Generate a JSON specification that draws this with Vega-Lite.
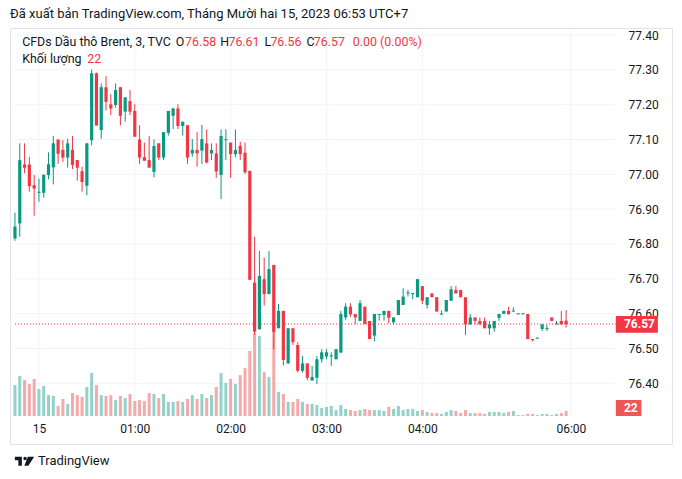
{
"$schema":"https://vega.github.io/schema/vega-lite/v6.json",
"width":662,"height":416,
"autosize":{"type":"none"},
"padding":{"left":10,"top":28,"right":10,"bottom":35},
"background":"#ffffff",
"config":{"view":{"stroke":"#e0e3eb","strokeWidth":1},"font":"Roboto","axis":{"grid":false,"ticks":false,"domain":false,"labelFont":"Roboto","title":null}},
"title":{"text":"Đã xuất bản TradingView.com, Tháng Mười hai 15, 2023 06:53 UTC+7","anchor":"start","frame":"group","font":"Roboto","fontSize":13,"fontWeight":"normal","color":"#131722","offset":7},
"datasets":{"bars":[
{"i":-5,"O":76.816,"H":76.89,"L":76.809,"C":76.85,"V":136},
{"i":-4,"O":76.859,"H":77.089,"L":76.821,"C":77.041,"V":176},
{"i":-3,"O":77.028,"H":77.089,"L":77.003,"C":77.019,"V":158},
{"i":-2,"O":77.028,"H":77.05,"L":76.95,"C":76.966,"V":141},
{"i":-1,"O":76.969,"H":76.998,"L":76.881,"C":76.959,"V":163},
{"i":0,"O":76.947,"H":76.988,"L":76.921,"C":76.95,"V":119},
{"i":1,"O":76.947,"H":76.999,"L":76.933,"C":76.999,"V":132},
{"i":2,"O":76.998,"H":77.063,"L":76.986,"C":77.029,"V":92},
{"i":3,"O":77.02,"H":77.11,"L":76.971,"C":77.089,"V":88},
{"i":4,"O":77.1,"H":77.1,"L":77.03,"C":77.059,"V":44},
{"i":5,"O":77.07,"H":77.098,"L":77.036,"C":77.048,"V":75},
{"i":6,"O":77.048,"H":77.102,"L":77.019,"C":77.089,"V":53},
{"i":7,"O":77.07,"H":77.11,"L":77.015,"C":77.027,"V":101},
{"i":8,"O":77.041,"H":77.041,"L":76.982,"C":77.019,"V":92},
{"i":9,"O":77.009,"H":77.022,"L":76.95,"C":76.978,"V":84},
{"i":10,"O":76.967,"H":77.089,"L":76.94,"C":77.089,"V":128},
{"i":11,"O":77.098,"H":77.301,"L":77.083,"C":77.29,"V":189},
{"i":12,"O":77.29,"H":77.292,"L":77.14,"C":77.14,"V":136},
{"i":13,"O":77.127,"H":77.261,"L":77.102,"C":77.25,"V":92},
{"i":14,"O":77.25,"H":77.282,"L":77.183,"C":77.208,"V":88},
{"i":15,"O":77.201,"H":77.23,"L":77.17,"C":77.189,"V":92},
{"i":16,"O":77.199,"H":77.261,"L":77.191,"C":77.242,"V":70},
{"i":17,"O":77.25,"H":77.25,"L":77.141,"C":77.168,"V":88},
{"i":18,"O":77.18,"H":77.221,"L":77.151,"C":77.221,"V":79},
{"i":19,"O":77.21,"H":77.242,"L":77.17,"C":77.18,"V":97},
{"i":20,"O":77.182,"H":77.201,"L":77.108,"C":77.108,"V":66},
{"i":21,"O":77.1,"H":77.141,"L":77.03,"C":77.048,"V":70},
{"i":22,"O":77.049,"H":77.091,"L":77.039,"C":77.039,"V":66},
{"i":23,"O":77.041,"H":77.11,"L":77.019,"C":77.019,"V":101},
{"i":24,"O":77.007,"H":77.1,"L":76.991,"C":77.081,"V":97},
{"i":25,"O":77.089,"H":77.089,"L":77.041,"C":77.048,"V":79},
{"i":26,"O":77.048,"H":77.121,"L":77.041,"C":77.121,"V":97},
{"i":27,"O":77.119,"H":77.182,"L":77.111,"C":77.182,"V":62},
{"i":28,"O":77.168,"H":77.191,"L":77.13,"C":77.189,"V":62},
{"i":29,"O":77.189,"H":77.201,"L":77.13,"C":77.139,"V":66},
{"i":30,"O":77.139,"H":77.151,"L":77.111,"C":77.151,"V":62},
{"i":31,"O":77.141,"H":77.141,"L":77.03,"C":77.048,"V":75},
{"i":32,"O":77.06,"H":77.101,"L":77.05,"C":77.07,"V":92},
{"i":33,"O":77.07,"H":77.121,"L":77.022,"C":77.06,"V":75},
{"i":34,"O":77.068,"H":77.142,"L":77.03,"C":77.101,"V":97},
{"i":35,"O":77.089,"H":77.129,"L":77.031,"C":77.034,"V":79},
{"i":36,"O":77.06,"H":77.089,"L":77.041,"C":77.07,"V":92},
{"i":37,"O":77.06,"H":77.089,"L":76.99,"C":77.008,"V":128},
{"i":38,"O":76.998,"H":77.129,"L":76.929,"C":77.11,"V":189},
{"i":39,"O":77.098,"H":77.129,"L":77.041,"C":77.101,"V":145},
{"i":40,"O":77.091,"H":77.091,"L":76.99,"C":77.058,"V":163},
{"i":41,"O":77.058,"H":77.129,"L":77.049,"C":77.07,"V":141},
{"i":42,"O":77.082,"H":77.094,"L":77.041,"C":77.058,"V":180},
{"i":43,"O":77.062,"H":77.091,"L":77.001,"C":77.006,"V":211},
{"i":44,"O":77.01,"H":77.01,"L":76.697,"C":76.697,"V":286},
{"i":45,"O":76.689,"H":76.821,"L":76.539,"C":76.548,"V":365},
{"i":46,"O":76.555,"H":76.78,"L":76.555,"C":76.708,"V":352},
{"i":47,"O":76.699,"H":76.761,"L":76.623,"C":76.656,"V":194},
{"i":48,"O":76.656,"H":76.78,"L":76.656,"C":76.728,"V":172},
{"i":49,"O":76.74,"H":76.74,"L":76.498,"C":76.548,"V":427},
{"i":50,"O":76.558,"H":76.628,"L":76.558,"C":76.608,"V":106},
{"i":51,"O":76.608,"H":76.608,"L":76.451,"C":76.467,"V":97},
{"i":52,"O":76.457,"H":76.558,"L":76.457,"C":76.558,"V":62},
{"i":53,"O":76.558,"H":76.558,"L":76.51,"C":76.518,"V":62},
{"i":54,"O":76.51,"H":76.518,"L":76.431,"C":76.436,"V":75},
{"i":55,"O":76.436,"H":76.478,"L":76.431,"C":76.457,"V":62},
{"i":56,"O":76.457,"H":76.457,"L":76.409,"C":76.416,"V":53},
{"i":57,"O":76.408,"H":76.45,"L":76.408,"C":76.418,"V":53},
{"i":58,"O":76.416,"H":76.478,"L":76.398,"C":76.469,"V":48},
{"i":59,"O":76.469,"H":76.498,"L":76.459,"C":76.489,"V":35},
{"i":60,"O":76.477,"H":76.498,"L":76.469,"C":76.489,"V":40},
{"i":61,"O":76.477,"H":76.489,"L":76.45,"C":76.48,"V":44},
{"i":62,"O":76.469,"H":76.498,"L":76.469,"C":76.498,"V":26},
{"i":63,"O":76.488,"H":76.608,"L":76.488,"C":76.599,"V":48},
{"i":64,"O":76.589,"H":76.63,"L":76.582,"C":76.62,"V":31},
{"i":65,"O":76.62,"H":76.63,"L":76.591,"C":76.598,"V":26},
{"i":66,"O":76.599,"H":76.599,"L":76.57,"C":76.589,"V":22},
{"i":67,"O":76.579,"H":76.639,"L":76.579,"C":76.63,"V":26},
{"i":68,"O":76.62,"H":76.62,"L":76.57,"C":76.57,"V":31},
{"i":69,"O":76.579,"H":76.579,"L":76.527,"C":76.527,"V":26},
{"i":70,"O":76.537,"H":76.599,"L":76.52,"C":76.599,"V":26},
{"i":71,"O":76.596,"H":76.599,"L":76.58,"C":76.599,"V":26},
{"i":72,"O":76.596,"H":76.608,"L":76.58,"C":76.608,"V":22},
{"i":73,"O":76.608,"H":76.608,"L":76.572,"C":76.588,"V":40},
{"i":74,"O":76.575,"H":76.589,"L":76.57,"C":76.589,"V":31},
{"i":75,"O":76.596,"H":76.639,"L":76.596,"C":76.639,"V":44},
{"i":76,"O":76.625,"H":76.673,"L":76.625,"C":76.649,"V":26},
{"i":77,"O":76.658,"H":76.668,"L":76.649,"C":76.661,"V":31},
{"i":78,"O":76.656,"H":76.659,"L":76.641,"C":76.659,"V":31},
{"i":79,"O":76.647,"H":76.699,"L":76.647,"C":76.699,"V":22},
{"i":80,"O":76.679,"H":76.679,"L":76.627,"C":76.637,"V":26},
{"i":81,"O":76.625,"H":76.647,"L":76.615,"C":76.647,"V":18},
{"i":82,"O":76.658,"H":76.658,"L":76.647,"C":76.647,"V":13},
{"i":83,"O":76.647,"H":76.647,"L":76.606,"C":76.606,"V":13},
{"i":84,"O":76.597,"H":76.609,"L":76.597,"C":76.6,"V":9},
{"i":85,"O":76.606,"H":76.639,"L":76.606,"C":76.639,"V":18},
{"i":86,"O":76.637,"H":76.679,"L":76.637,"C":76.67,"V":26},
{"i":87,"O":76.668,"H":76.679,"L":76.658,"C":76.658,"V":22},
{"i":88,"O":76.668,"H":76.668,"L":76.647,"C":76.647,"V":13},
{"i":89,"O":76.647,"H":76.647,"L":76.539,"C":76.569,"V":26},
{"i":90,"O":76.569,"H":76.599,"L":76.569,"C":76.589,"V":13},
{"i":91,"O":76.589,"H":76.589,"L":76.569,"C":76.579,"V":13},
{"i":92,"O":76.579,"H":76.589,"L":76.569,"C":76.569,"V":13},
{"i":93,"O":76.579,"H":76.589,"L":76.558,"C":76.558,"V":9},
{"i":94,"O":76.558,"H":76.579,"L":76.539,"C":76.569,"V":18},
{"i":95,"O":76.558,"H":76.579,"L":76.548,"C":76.579,"V":18},
{"i":96,"O":76.588,"H":76.599,"L":76.579,"C":76.599,"V":18},
{"i":97,"O":76.599,"H":76.608,"L":76.599,"C":76.608,"V":13},
{"i":98,"O":76.608,"H":76.62,"L":76.598,"C":76.598,"V":18},
{"i":99,"O":76.606,"H":76.618,"L":76.606,"C":76.609,"V":22},
{"i":100,"O":76.598,"H":76.601,"L":76.598,"C":76.601,"V":4},
{"i":101,"O":76.598,"H":76.601,"L":76.598,"C":76.601,"V":4},
{"i":102,"O":76.599,"H":76.599,"L":76.527,"C":76.527,"V":9},
{"i":103,"O":76.527,"H":76.527,"L":76.52,"C":76.524,"V":9},
{"i":104,"O":76.528,"H":76.531,"L":76.528,"C":76.531,"V":4},
{"i":105,"O":76.556,"H":76.569,"L":76.55,"C":76.569,"V":9},
{"i":106,"O":76.556,"H":76.567,"L":76.55,"C":76.559,"V":9},
{"i":107,"O":76.589,"H":76.589,"L":76.579,"C":76.579,"V":4},
{"i":108,"O":76.569,"H":76.579,"L":76.569,"C":76.572,"V":9},
{"i":109,"O":76.579,"H":76.608,"L":76.569,"C":76.569,"V":13},
{"i":110,"O":76.58,"H":76.61,"L":76.56,"C":76.57,"V":22}
]},
"resolve":{"scale":{"y":"independent"}},
"layer":[
{"data":{"values":[{"i":0},{"i":20},{"i":40},{"i":60},{"i":80},{"i":111}]},
 "mark":{"type":"rule","color":"#f0f3fa","strokeWidth":1},
 "encoding":{
  "x":{"field":"i","type":"quantitative","scale":{"domain":[-4.994,131.05],"nice":false,"zero":false},
   "axis":{"orient":"bottom","offset":-28,"values":[0,20,40,60,80,111],"labelExpr":"datum.value == 0 ? '15' : datum.value == 20 ? '01:00' : datum.value == 40 ? '02:00' : datum.value == 60 ? '03:00' : datum.value == 80 ? '04:00' : '06:00'","labelPadding":7,"labelFontSize":12,"labelColor":"#131722","labelFlush":false,"labelOverlap":false,"title":null}},
  "y":{"datum":77.4201,"type":"quantitative","scale":{"domain":[76.2257,77.4201],"nice":false,"zero":false},"axis":null},
  "y2":{"datum":76.3061}}},
{"data":{"values":[{"p":76.4},{"p":76.5},{"p":76.6},{"p":76.7},{"p":76.8},{"p":76.9},{"p":77.0},{"p":77.1},{"p":77.2},{"p":77.3},{"p":77.4}]},
 "mark":{"type":"rule","color":"#f0f3fa","strokeWidth":1},
 "encoding":{
  "y":{"field":"p","type":"quantitative","scale":{"domain":[76.2257,77.4201],"nice":false,"zero":false},
   "axis":{"orient":"right","offset":-52,"values":[76.4,76.5,76.6,76.7,76.8,76.9,77.0,77.1,77.2,77.3,77.4],"format":".2f","labelPadding":8,"labelFontSize":12,"labelColor":"#131722","labelBaseline":"middle","labelAlign":"left","title":null,"zindex":0}},
  "x":{"datum":-4.994,"type":"quantitative","scale":{"domain":[-4.994,131.05],"nice":false,"zero":false}},
  "x2":{"datum":120.37}}},
{"data":{"name":"bars"},
 "mark":{"type":"bar","size":3,"clip":true},
 "encoding":{
  "x":{"field":"i","type":"quantitative","scale":{"domain":[-4.994,131.05],"nice":false,"zero":false}},
  "y":{"field":"V","type":"quantitative","scale":{"domain":[-123.2,1707.2],"nice":false,"zero":false},"axis":null},
  "color":{"condition":{"test":"datum.C >= datum.O","value":"#93d2ca"},"value":"#f7a8a8"}}},
{"data":{"name":"bars"},
 "mark":{"type":"rule","strokeWidth":1,"clip":true},
 "encoding":{
  "x":{"field":"i","type":"quantitative","scale":{"domain":[-4.994,131.05],"nice":false,"zero":false}},
  "y":{"field":"L","type":"quantitative","scale":{"domain":[76.2257,77.4201],"nice":false,"zero":false},"axis":null},
  "y2":{"field":"H"},
  "color":{"condition":{"test":"datum.C >= datum.O","value":"#089981"},"value":"#F23645"}}},
{"data":{"name":"bars"},
 "mark":{"type":"bar","size":3.2,"clip":true},
 "encoding":{
  "x":{"field":"i","type":"quantitative","scale":{"domain":[-4.994,131.05],"nice":false,"zero":false}},
  "y":{"field":"O","type":"quantitative","scale":{"domain":[76.2257,77.4201],"nice":false,"zero":false},"axis":null},
  "y2":{"field":"C"},
  "color":{"condition":{"test":"datum.C >= datum.O","value":"#089981"},"value":"#F23645"}}},
{"data":{"values":[{}]},
 "mark":{"type":"rule","color":"#F23645","strokeWidth":1,"strokeDash":[1,2]},
 "encoding":{
  "y":{"datum":76.57,"type":"quantitative","scale":{"domain":[76.2257,77.4201],"nice":false,"zero":false},"axis":null},
  "x":{"datum":-4.994,"type":"quantitative","scale":{"domain":[-4.994,131.05],"nice":false,"zero":false}},
  "x2":{"datum":120.37}}},
{"data":{"values":[{}]},
 "mark":{"type":"rect","color":"#F23645"},
 "encoding":{
  "y":{"datum":76.5932,"type":"quantitative","scale":{"domain":[76.2257,77.4201],"nice":false,"zero":false},"axis":null},
  "y2":{"datum":76.5453},
  "x":{"datum":120.37,"type":"quantitative","scale":{"domain":[-4.994,131.05],"nice":false,"zero":false}},
  "x2":{"datum":129.14}}},
{"data":{"values":[{}]},
 "mark":{"type":"text","color":"#ffffff","fontSize":12,"fontWeight":"bold","align":"left","baseline":"middle","font":"Roboto"},
 "encoding":{
  "text":{"value":"76.57"},
  "y":{"datum":76.569,"type":"quantitative","scale":{"domain":[76.2257,77.4201],"nice":false,"zero":false},"axis":null},
  "x":{"datum":122.07,"type":"quantitative","scale":{"domain":[-4.994,131.05],"nice":false,"zero":false}}}},
{"data":{"values":[{}]},
 "mark":{"type":"rect","color":"#ef5656"},
 "encoding":{
  "y":{"datum":0,"type":"quantitative","scale":{"domain":[-123.2,1707.2],"nice":false,"zero":false},"axis":null},
  "y2":{"datum":70.4},
  "x":{"datum":120.37,"type":"quantitative","scale":{"domain":[-4.994,131.05],"nice":false,"zero":false}},
  "x2":{"datum":125.71}}},
{"data":{"values":[{}]},
 "mark":{"type":"text","color":"#ffffff","fontSize":12,"fontWeight":"bold","align":"left","baseline":"middle","font":"Roboto"},
 "encoding":{
  "text":{"value":"22"},
  "y":{"datum":35.2,"type":"quantitative","scale":{"domain":[-123.2,1707.2],"nice":false,"zero":false},"axis":null},
  "x":{"datum":122.07,"type":"quantitative","scale":{"domain":[-4.994,131.05],"nice":false,"zero":false}}}},
{"data":{"values":[{"t":"CFDs Dầu thô Brent, 3, TVC","x":-3.494,"y":77.3799,"k":"a"},{"t":"O","x":28.566,"y":77.3799,"k":"a"},{"t":"76.58","x":30.497,"y":77.3799,"k":"b"},{"t":"H","x":37.813,"y":77.3799,"k":"a"},{"t":"76.61","x":39.539,"y":77.3799,"k":"b"},{"t":"L","x":47.061,"y":77.3799,"k":"a"},{"t":"76.56","x":48.294,"y":77.3799,"k":"b"},{"t":"C","x":55.837,"y":77.3799,"k":"a"},{"t":"76.57","x":57.337,"y":77.3799,"k":"b"},{"t":"0.00 (0.00%)","x":65.5,"y":77.3799,"k":"b"},{"t":"Khối lượng","x":-3.494,"y":77.3311,"k":"a"},{"t":"22","x":10.07,"y":77.3311,"k":"b"}]},
 "mark":{"type":"text","fontSize":12.4,"align":"left","baseline":"middle","font":"Roboto"},
 "encoding":{
  "text":{"field":"t"},
  "x":{"field":"x","type":"quantitative","scale":{"domain":[-4.994,131.05],"nice":false,"zero":false}},
  "y":{"field":"y","type":"quantitative","scale":{"domain":[76.2257,77.4201],"nice":false,"zero":false},"axis":null},
  "color":{"condition":{"test":"datum.k == 'b'","value":"#F23645"},"value":"#131722"}}},
{"data":{"values":[{}]},
 "mark":{"type":"point","filled":true,"opacity":1,"color":"#131722","strokeWidth":0,"size":372,"shape":"M -1 -0.466 L -0.275 -0.466 L -0.275 0.466 L -0.637 0.466 L -0.637 -0.104 L -1 -0.104 Z M -0.119 -0.29 A 0.176 0.176 0 1 0 0.233 -0.29 A 0.176 0.176 0 1 0 -0.119 -0.29 Z M 0.347 -0.466 L 1 -0.466 L 0.399 0.466 L -0.016 0.466 Z"},
 "encoding":{
  "x":{"datum":-3.011,"type":"quantitative","scale":{"domain":[-4.994,131.05],"nice":false,"zero":false}},
  "y":{"datum":76.1762,"type":"quantitative","scale":{"domain":[76.2257,77.4201],"nice":false,"zero":false},"axis":null}}},
{"data":{"values":[{}]},
 "mark":{"type":"text","fontSize":13,"align":"left","baseline":"middle","font":"Roboto","color":"#131722"},
 "encoding":{
  "text":{"value":"TradingView"},
  "x":{"datum":-0.206,"type":"quantitative","scale":{"domain":[-4.994,131.05],"nice":false,"zero":false}},
  "y":{"datum":76.1762,"type":"quantitative","scale":{"domain":[76.2257,77.4201],"nice":false,"zero":false},"axis":null}}}
]
}
